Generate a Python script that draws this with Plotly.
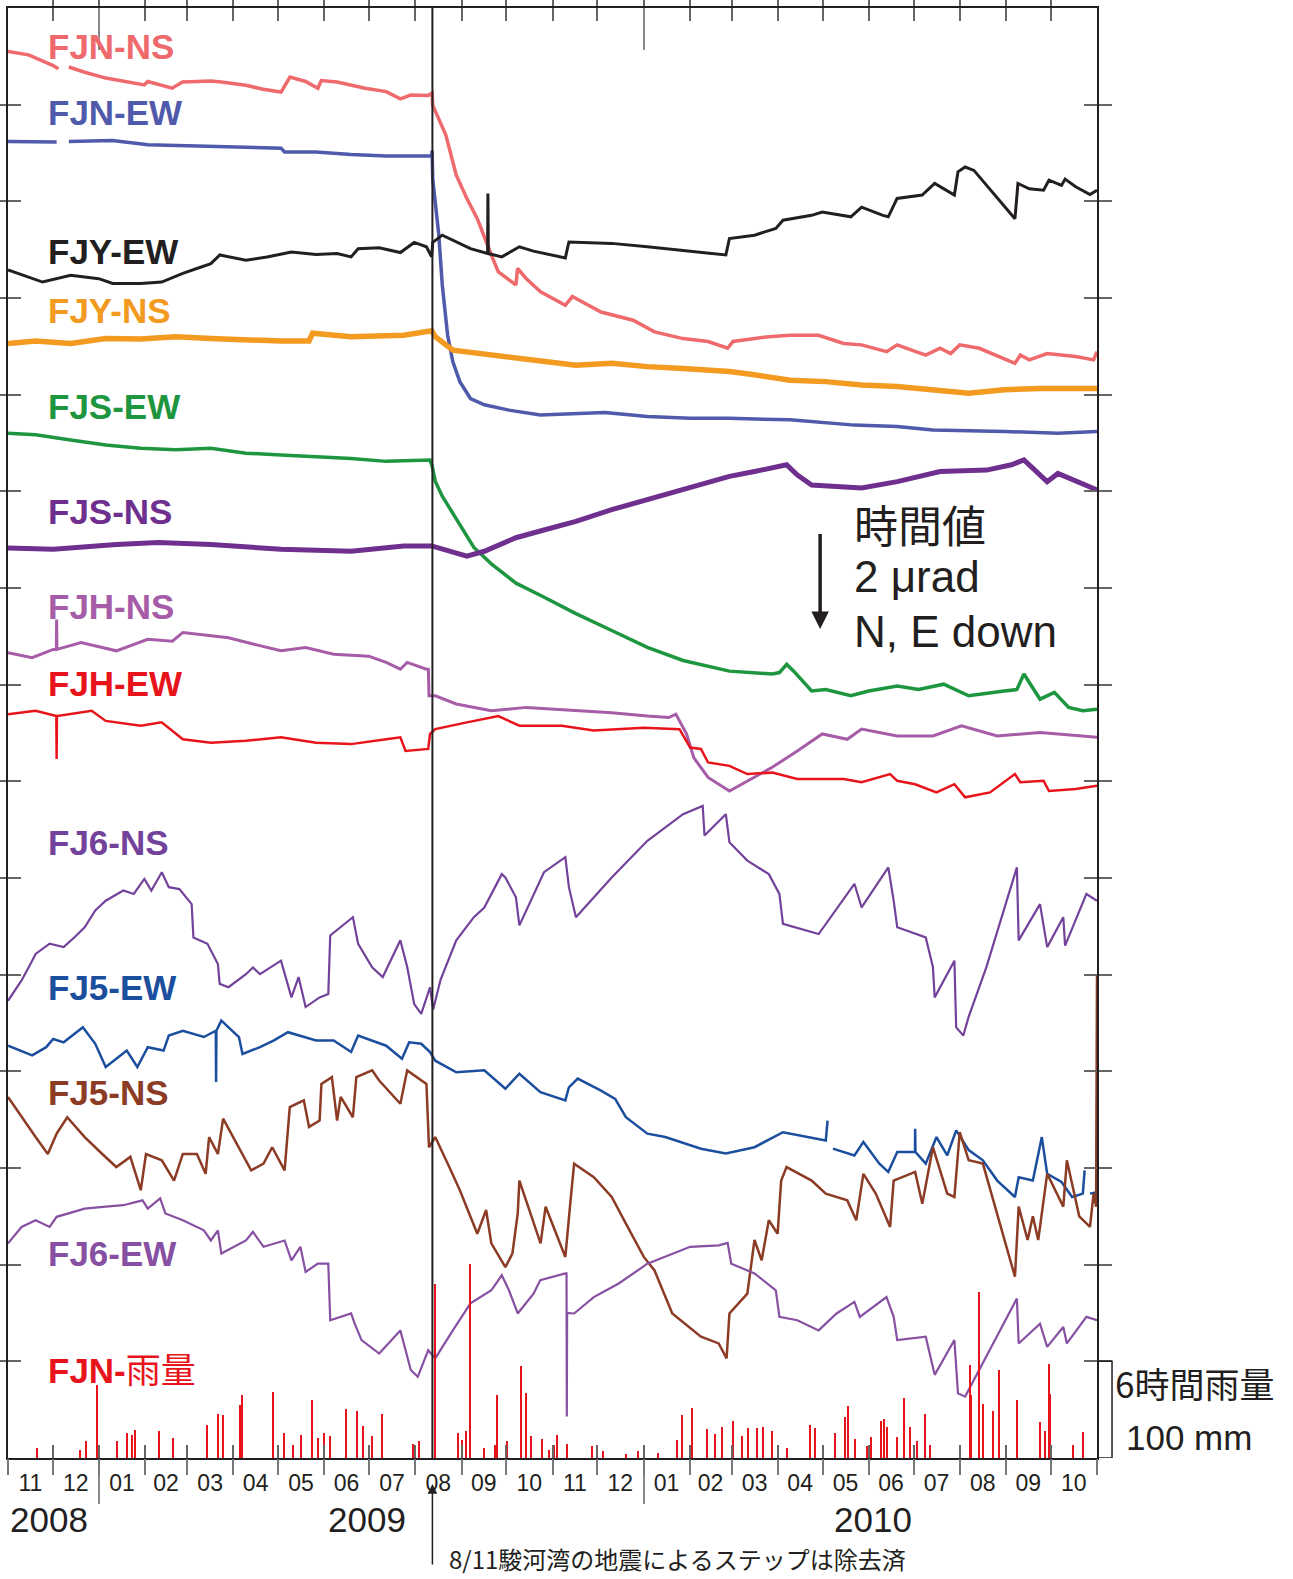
import pandas as pd
import plotly.graph_objects as go

START = pd.Timestamp("2008-11-01")
END = pd.Timestamp("2010-11-01")
QUAKE = pd.Timestamp("2009-08-12 12:00")
YEAR_STARTS = ["2009-01-01", "2010-01-01"]
MONTH_TICK_FORMAT = "%m"

# ---- tilt series: days since 2008-11-01, tilt in micro-radian (stacked offsets) ----
fjn_ns_day = [0, 13.8, 30.3, 33.8, 37, 40.8, 51.4, 65.5, 79.6, 91.4, 93.7, 110, 117, 136, 143, 159.5, 171, 183, 189,
              199.5, 207.7, 210, 220.6, 239.4, 253.5, 263, 270, 281.7, 284.3, 284.7, 293.5, 300.5, 307.6, 314.6,
              324, 328.7, 340.5, 341.6, 347.5, 357, 373.6, 378.3, 397.5, 419, 433.4, 452.5, 469.3, 482.4, 486,
              510, 524.3, 543.4, 560.2, 572.2, 589, 596, 615.2, 624.8, 631.9, 638, 651.1, 675, 678.6, 684.6,
              696.6, 715.7, 727.7, 730]
fjn_ns_val = [29.10, 29.03, 28.81, 28.74, None, 28.78, 28.67, 28.55, 28.47, 28.41, 28.48, 28.34, 28.47, 28.49, 28.47,
              28.40, 28.32, 28.26, 28.57, 28.48, 28.34, 28.50, 28.47, 28.34, 28.27, 28.12, 28.20, 28.19, 28.24,
              27.99, 27.37, 26.54, 26.06, 25.64, 24.89, 24.54, 24.27, 24.61, 24.40, 24.13, 23.85, 24.03, 23.71,
              23.54, 23.30, 23.16, 23.10, 22.96, 23.10, 23.20, 23.23, 23.23, 23.06, 23.03, 22.89, 23.03, 22.82,
              22.96, 22.85, 23.03, 22.96, 22.65, 22.82, 22.72, 22.85, 22.79, 22.72, 22.89]

fjn_ew_day = [0, 32.6, 37, 40.8, 70, 93.7, 124, 159.5, 183, 185.4, 206.5, 230, 253.5, 284.0, 284.3, 284.7, 288.8,
              291.1, 294.7, 298.2, 302.9, 310, 319.3, 335.8, 356.8, 400, 428.6, 457.3, 483.6, 524.3, 567.4, 596,
              620, 667.9, 703.8, 730]
fjn_ew_val = [27.24, 27.23, None, 27.24, 27.26, 27.17, 27.15, 27.12, 27.10, 27.02, 27.02, 26.97, 26.94, 26.94, 27.05,
              26.47, 25.30, 24.27, 23.23, 22.68, 22.27, 21.92, 21.79, 21.68, 21.58, 21.63, 21.55, 21.51, 21.51,
              21.48, 21.37, 21.34, 21.27, 21.24, 21.20, 21.24]

fjy_ew_day = [0, 16.2, 23.2, 42, 60.8, 70.2, 89, 103, 117.2, 126.6, 136, 142, 159.5, 173.6, 190, 206.5, 220.6, 230,
              234.7, 248.8, 263, 272.3, 280.5, 284.0, 284.7, 291.1, 300.5, 310, 321.5, 321.7, 322, 331, 342.8,
              352.2, 373.6, 376, 404.7, 428.6, 457.3, 481.2, 483.6, 500.4, 514.7, 519.5, 538.7, 545.8, 565, 572.2,
              586.5, 590.1, 596, 612.8, 621.2, 634.4, 636.8, 641.6, 647.5, 675, 677, 684.6, 694.2, 697.8, 706.2,
              708.6, 715.7, 725.3, 730]
fjy_ew_val = [24.58, 24.40, 24.33, 24.47, 24.40, 24.30, 24.30, 24.33, 24.51, 24.61, 24.71, 24.89, 24.78, 24.85,
              24.95, 24.90, 24.92, 24.85, 25.02, 25.04, 24.94, 25.15, 25.06, 24.85, 25.15, 25.30, 25.16, 25.02,
              24.92, 26.16, 24.92, 24.85, 25.06, 24.97, 24.83, 25.16, 25.13, 25.06, 24.97, 24.89, 25.23, 25.30,
              25.44, 25.61, 25.71, 25.78, 25.68, 25.88, 25.71, 25.68, 26.06, 26.13, 26.37, 26.13, 26.61, 26.71,
              26.64, 25.64, 26.37, 26.26, 26.23, 26.44, 26.33, 26.46, 26.30, 26.14, 26.23]

fjy_ns_day = [0, 18.5, 42, 65.5, 89, 112.5, 136, 159.5, 183, 201.8, 204.2, 230, 253.5, 265.3, 284.0, 286.4, 298.2,
              324, 356.8, 380.7, 404.7, 428.6, 452.5, 483.6, 500.4, 524.3, 548.2, 572.2, 596, 620, 644, 667.9,
              691.8, 730]
fjy_ns_val = [23.06, 23.11, 23.06, 23.16, 23.15, 23.20, 23.16, 23.13, 23.11, 23.11, 23.27, 23.20, 23.22, 23.23,
              23.32, 23.20, 22.92, 22.82, 22.72, 22.61, 22.65, 22.58, 22.54, 22.48, 22.41, 22.30, 22.27, 22.20,
              22.17, 22.10, 22.03, 22.10, 22.13, 22.13]

fjs_ew_day = [0, 18.5, 42, 65.5, 89, 112.5, 136, 159.5, 183, 206.5, 230, 253.5, 282.9, 284.5, 286.4, 291.1, 300.5,
              312.3, 324, 340.5, 356.8, 380.7, 404.7, 428.6, 452.5, 483.6, 512.3, 517.1, 522, 526.7, 538.7, 548.2,
              565, 577, 596.1, 610.5, 627.2, 644, 667.9, 676.3, 681, 691.8, 701.4, 711, 720.5, 730]
fjs_ew_val = [21.20, 21.17, 21.06, 20.96, 20.89, 20.86, 20.89, 20.79, 20.75, 20.72, 20.68, 20.62, 20.65, 20.50,
              20.21, 19.90, 19.42, 18.84, 18.50, 18.10, 17.85, 17.47, 17.12, 16.77, 16.50, 16.28, 16.22, 16.25,
              16.42, 16.28, 15.87, 15.90, 15.77, 15.87, 15.97, 15.90, 16.01, 15.77, 15.87, 15.90, 16.22, 15.70,
              15.84, 15.53, 15.46, 15.49]

fjs_ns_day = [0, 30.3, 72.6, 100.8, 136, 183, 230, 265.3, 284, 300.5, 307.6, 319.3, 340.5, 356.8, 380.7, 404.7,
              428.6, 447.7, 483.6, 500.4, 521.9, 529, 538.7, 572.2, 596.1, 624.8, 656, 672.7, 681, 696.6, 703.8, 730]
fjs_ns_val = [18.83, 18.80, 18.90, 18.94, 18.90, 18.80, 18.76, 18.87, 18.87, 18.73, 18.66, 18.76, 19.04, 19.18,
              19.38, 19.62, 19.83, 20.02, 20.31, 20.41, 20.55, 20.34, 20.13, 20.07, 20.20, 20.41, 20.44, 20.55,
              20.65, 20.20, 20.37, 20.03]

fjh_ns_day = [0, 16.2, 30.3, 32.4, 32.6, 32.8, 49, 72.6, 93.7, 110.2, 117.2, 136, 147.8, 164.2, 183, 199.5, 218.3,
              241.8, 253.5, 263, 267.6, 280.5, 281.8, 282.2, 286.4, 300.5, 324, 347.5, 380.7, 404.7, 428.6, 443,
              447.7, 454.9, 459.7, 469.3, 483.6, 495.6, 512.3, 529.1, 545.8, 562.6, 572.2, 596.1, 620, 639.2,
              663.1, 691.8, 730]
fjh_ns_val = [16.66, 16.56, 16.73, 16.73, 17.35, 16.73, 16.87, 16.70, 16.94, 16.90, 17.08, 17.01, 16.97, 16.84,
              16.70, 16.77, 16.63, 16.59, 16.46, 16.32, 16.46, 16.32, 16.32, 15.77, 15.77, 15.60, 15.46, 15.53,
              15.46, 15.42, 15.35, 15.32, 15.39, 14.98, 14.49, 14.08, 13.80, 14.01, 14.29, 14.63, 14.98, 14.87,
              15.08, 14.94, 14.94, 15.15, 14.94, 15.01, 14.91]

fjh_ew_day = [0, 18.5, 32.4, 32.6, 32.8, 56.1, 65.5, 89, 103, 117.2, 136, 159.5, 183, 206.5, 230, 253.5, 263,
              266.5, 281.7, 282.9, 286.4, 307.6, 328.7, 342.8, 371.2, 392.7, 426.2, 450.1, 457.3, 464.5, 469.3,
              483.6, 495.6, 512.3, 529.1, 560.2, 572.2, 591.3, 596.1, 608.1, 622.4, 634.4, 641.6, 658.3, 675,
              678.6, 694.2, 697.8, 715.7, 730]
fjh_ew_val = [15.39, 15.46, 15.35, 14.46, 15.35, 15.46, 15.25, 15.15, 15.22, 14.87, 14.80, 14.84, 14.91, 14.80,
              14.77, 14.87, 14.91, 14.63, 14.67, 14.98, 15.08, 15.22, 15.35, 15.15, 15.15, 15.05, 15.11, 15.08,
              14.70, 14.67, 14.39, 14.32, 14.15, 14.18, 14.05, 14.05, 13.98, 14.15, 14.01, 13.94, 13.77, 13.94,
              13.67, 13.77, 14.15, 13.98, 14.01, 13.80, 13.84, 13.91]

fj6_ns_day = [0, 9.1, 16.2, 18.5, 27.9, 37.3, 44.4, 51.4, 58.5, 65.5, 77.3, 84.3, 91.4, 96.1, 103.1, 107.8, 114.9,
              123.1, 124.3, 133.7, 140.7, 141.9, 147.8, 159.5, 164.2, 168.9, 183, 190, 194.8, 199.5, 208.9, 214.7,
              216, 231.2, 234.7, 244.1, 251.2, 263, 267.6, 272.3, 277, 282.9, 285, 290, 300.5, 312.3, 319.3, 331,
              333.4, 340.5, 342.8, 354.6, 359.3, 373.6, 376, 380.7, 404.7, 428.6, 452.5, 465.7, 466.9, 481.2,
              483.6, 495.6, 510, 517.1, 519.5, 543.4, 567.4, 572.2, 590.1, 593.7, 596.1, 615.2, 620, 621.2, 634.4,
              635.6, 640.4, 643.9, 651.1, 655.9, 676.3, 677.5, 691.8, 696.6, 707.4, 708.6, 722.9, 730]
fj6_ns_val = [9.46, 9.88, 10.29, 10.43, 10.64, 10.57, 10.77, 10.98, 11.33, 11.53, 11.74, 11.67, 11.98, 11.74, 12.12,
              11.81, 11.77, 11.46, 10.77, 10.64, 10.22, 9.81, 9.74, 10.01, 10.15, 10.01, 10.29, 9.53, 9.95, 9.33,
              9.53, 9.60, 10.81, 11.19, 10.64, 10.15, 9.95, 10.71, 10.16, 9.39, 9.19, 9.74, 9.28, 9.90, 10.71,
              11.19, 11.39, 12.08, 12.01, 11.60, 11.02, 11.81, 12.12, 12.43, 11.81, 11.19, 12.01, 12.77, 13.32,
              13.49, 12.88, 13.32, 12.74, 12.36, 12.08, 11.67, 11.05, 10.84, 11.88, 11.39, 12.22, 11.53, 10.98,
              10.77, 10.16, 9.53, 10.29, 8.91, 8.74, 9.12, 9.74, 10.16, 12.22, 10.71, 11.46, 10.57, 11.19, 10.60,
              11.67, 11.53]

fj5_ew_day = [0, 16.2, 25.6, 30.3, 37.3, 50.2, 58.5, 65.5, 72.6, 79.6, 86.7, 93.7, 104.3, 107.8, 117.2, 131.3,
              139.3, 139.5, 139.7, 143, 154.8, 157.2, 168.9, 178.3, 187.7, 206.5, 218.3, 230, 234.7, 253.5, 264.1,
              268.9, 277, 282.9, 286.4, 300.5, 319.3, 333.4, 342.8, 356.9, 373.6, 376, 381.9, 397.5, 407, 414.2,
              428.6, 440.6, 464.5, 481.2, 500.4, 519.5, 548.2, 549.4, 551, 553, 567.4, 573.4, 584.1, 590.1, 596.1,
              608, 608.1, 608.3, 615.2, 622.4, 629.6, 635.6, 644, 653.5, 663.1, 675, 677.5, 687, 693, 696.6, 706.2,
              713.3, 720.5, 721.7, 723.5, 725.3, 730]
fj5_ew_val = [8.53, 8.33, 8.50, 8.67, 8.60, 8.91, 8.57, 8.09, 8.26, 8.43, 8.09, 8.50, 8.43, 8.74, 8.84, 8.71, 8.84,
              7.78, 8.84, 9.05, 8.71, 8.36, 8.50, 8.64, 8.81, 8.64, 8.64, 8.40, 8.74, 8.53, 8.26, 8.60, 8.57, 8.40,
              8.22, 7.98, 8.02, 7.64, 7.95, 7.57, 7.40, 7.67, 7.85, 7.60, 7.43, 7.05, 6.71, 6.64, 6.40, 6.30, 6.43,
              6.74, 6.57, 6.98, None, 6.40, 6.26, 6.54, 6.09, 5.92, 6.33, 6.33, 6.81, 6.33, 6.09, 6.64, 6.26, 6.78,
              6.37, 6.16, 5.74, 5.40, 5.81, 5.74, 6.64, 5.88, 5.71, 5.40, 5.47, 5.95, None, 5.47, 5.50]

fj5_ns_day = [0, 9.1, 18.5, 26.7, 32.6, 39.7, 51.4, 63.2, 72.6, 82, 89, 92.5, 103.1, 111.3, 117.2, 126.6, 132.5,
              134.8, 140.7, 144.2, 154.8, 163, 171.3, 177.1, 185.4, 188.9, 198.3, 201.8, 208.9, 210.1, 217.1,
              220.6, 223, 231.2, 233.5, 244.1, 248.8, 263, 267.6, 280.5, 282.2, 286.4, 295.8, 302.9, 314.6, 320.5,
              324, 333.4, 338.1, 341.7, 342.8, 357, 360.4, 373.6, 377.1, 379.5, 392.7, 404.7, 414.2, 426.2, 433.4,
              445.3, 464.5, 476.4, 481.7, 483.6, 495.6, 500.4, 505.2, 510, 515.9, 518.3, 521.9, 538.7, 548.2,
              562.6, 568.6, 573.4, 581.7, 591.3, 593.7, 608.1, 612.9, 620, 629.6, 634.4, 638, 644, 653.5, 663.1,
              675, 677.5, 683.5, 687, 690.6, 696.6, 707.4, 709.8, 718.1, 725.3, 727.7, 729.4, 730]
fj5_ns_val = [7.47, 7.05, 6.64, 6.29, 6.71, 7.05, 6.64, 6.29, 6.02, 6.23, 5.54, 6.29, 6.16, 5.74, 6.29, 6.29, 5.88,
              6.64, 6.29, 7.02, 6.43, 5.95, 6.09, 6.43, 5.95, 7.26, 7.40, 6.85, 6.98, 7.74, 7.88, 6.98, 7.47, 7.05,
              7.88, 8.02, 7.81, 7.33, 8.02, 7.74, 6.43, 6.64, 6.02, 5.54, 4.64, 5.13, 4.44, 3.95, 4.23, 5.06, 5.74,
              4.44, 5.20, 4.16, 5.33, 6.09, 5.81, 5.40, 4.85, 4.16, 3.88, 2.99, 2.51, 2.37, 2.06, 2.99, 3.40, 4.51,
              4.09, 4.92, 4.64, 5.74, 6.02, 5.74, 5.47, 5.33, 4.92, 5.88, 5.47, 4.78, 5.74, 5.92, 5.26, 6.43, 5.47,
              5.40, 6.74, 6.16, 6.09, 5.06, 3.75, 5.20, 4.51, 5.00, 4.51, 5.88, 5.20, 6.16, 5.00, 4.78, 5.47, 5.20,
              9.98]

fj6_ew_day = [0, 9.1, 18.5, 27.9, 32.6, 51.4, 65.5, 77.3, 90.2, 93.7, 102, 105.5, 117.2, 131.3, 136, 140.7, 143,
              159.5, 164.2, 171.3, 185.4, 190, 196, 199.5, 207.7, 214.7, 216, 230, 232.4, 237, 248.8, 263, 270,
              274.7, 281.7, 286.4, 298.2, 310, 324, 331, 335.8, 341.7, 352.3, 356.8, 373.6, 374.4, 374.6, 374.8,
              379.5, 392.7, 409.4, 428.6, 457.3, 476.4, 482.4, 484.8, 500.4, 514.7, 517.1, 529.1, 543.4, 555.4,
              567.4, 571, 588.9, 593.7, 596.1, 615.2, 621.2, 634.4, 636.8, 641.6, 676.3, 677.5, 691.8, 696.6,
              707.4, 709.8, 722.9, 730]
fj6_ew_val = [4.44, 4.78, 4.92, 4.78, 4.99, 5.16, 5.20, 5.23, 5.33, 5.16, 5.37, 5.06, 4.92, 4.71, 4.50, 4.71, 4.23,
              4.50, 4.68, 4.37, 4.50, 4.09, 4.37, 3.85, 4.02, 4.02, 2.85, 2.99, 2.78, 2.44, 2.16, 2.64, 1.82, 1.68,
              2.23, 2.06, 2.64, 3.20, 3.47, 3.78, 3.47, 2.99, 3.40, 3.68, 3.82, 3.82, 0.86, 3.00, 2.99, 3.33, 3.61,
              4.02, 4.37, 4.40, 4.45, 4.02, 3.82, 3.47, 2.92, 2.85, 2.64, 2.99, 3.23, 2.92, 3.33, 2.92, 2.44, 2.51,
              1.72, 2.44, 1.34, 1.27, 3.30, 2.37, 2.78, 2.30, 2.71, 2.37, 2.92, 2.85]

# ---- 6-hour rainfall at FJN (mm) ----
rain_day = [19.6, 48.6, 52.6, 59.8, 73.4, 80, 83.4, 85.4, 101.5, 111, 133.7, 141, 144.4, 155.8, 157.1, 177.9, 185.3,
            191.3, 196.6, 204, 208, 212.1, 216.1, 226.8, 234.2, 238.2, 244.2, 250.9, 271.7, 275.7, 286.4, 301.8,
            304.5, 307.2, 309.9, 319.3, 326.6, 328, 334.7, 344, 347.4, 350.8, 358.1, 362.8, 366.2, 368.2, 374.9,
            391.6, 399, 414.4, 422.4, 435.8, 448.6, 451.9, 458.6, 468.6, 474, 478.7, 486.1, 492.1, 496.1, 502.2,
            506.2, 512.2, 522.3, 537.7, 541, 554.4, 561.1, 563.1, 567.8, 575.9, 578.6, 585.3, 587.3, 589.4, 596.1,
            600.7, 604.7, 609.4, 614.7, 618.1, 644.9, 645.6, 651, 653.6, 660.3, 664.5, 676.5, 691.9, 695.3, 698,
            698.5, 713.9, 720.6]
rain_mm = [10, 8, 18, 76, 18, 26, 24, 29, 28, 21, 34, 46, 44, 55, 65, 68, 26, 13, 24, 60, 21, 26, 23, 51, 49, 33, 23,
           46, 15, 18, 180, 26, 19, 28, 201, 10, 13, 65, 18, 95, 67, 23, 20, 8, 13, 24, 14, 12, 7, 4, 7, 5, 19, 44,
           52, 30, 25, 32, 38, 23, 31, 31, 32, 28, 10, 34, 31, 26, 42, 54, 20, 12, 22, 38, 40, 32, 22, 62, 32, 18,
           46, 13, 96, 65, 172, 56, 49, 91, 60, 37, 28, 97, 66, 13, 27]

# scale annotations
SCALE_TILT_URAD = 2
SCALE_RAIN_MM = 100
scale_arrow_day = 544.4
scale_arrow_tip = 17.15

series = [
    ("FJN-NS", fjn_ns_day, fjn_ns_val, "#EE6A6C", 3.5, 29.21),
    ("FJN-EW", fjn_ew_day, fjn_ew_val, "#4F5BAA", 3.5, 27.83),
    ("FJY-EW", fjy_ew_day, fjy_ew_val, "#231F20", 3.0, 24.96),
    ("FJY-NS", fjy_ns_day, fjy_ns_val, "#F39A20", 5.5, 23.74),
    ("FJS-EW", fjs_ew_day, fjs_ew_val, "#1E9640", 3.5, 21.76),
    ("FJS-NS", fjs_ns_day, fjs_ns_val, "#6E2F8E", 5.0, 19.59),
    ("FJH-NS", fjh_ns_day, fjh_ns_val, "#A65CA6", 3.0, 17.62),
    ("FJH-EW", fjh_ew_day, fjh_ew_val, "#E8141B", 2.5, 16.03),
    ("FJ6-NS", fj6_ns_day, fj6_ns_val, "#73429A", 2.2, 12.73),
    ("FJ5-EW", fj5_ew_day, fj5_ew_val, "#1C4E9E", 2.5, 9.73),
    ("FJ5-NS", fj5_ns_day, fj5_ns_val, "#8C3B24", 2.5, 7.56),
    ("FJ6-EW", fj6_ew_day, fj6_ew_val, "#8750A2", 2.2, 4.24),
]


def to_dates(days):
    return [START + pd.Timedelta(days=d) for d in days]


LATIN = "Liberation Sans, Arial, Noto Sans CJK JP, sans-serif"
CJK = "Noto Sans CJK JP, Liberation Sans, sans-serif"
INK = "#231F20"

fig = go.Figure()

fig.add_trace(go.Bar(x=to_dates(rain_day), y=rain_mm, yaxis="y2", width=86400000 * 0.9,
                     marker=dict(color="#E8141B", line=dict(width=0)), showlegend=False, hoverinfo="skip"))

for name, d, v, color, width, _ in series:
    fig.add_trace(go.Scatter(x=to_dates(d), y=v, mode="lines", name=name,
                             line=dict(color=color, width=width), connectgaps=False,
                             showlegend=False))

# empty traces to attach the extra tick axes
for ax in ["x2", "x3", "x4", "x5"]:
    fig.add_trace(go.Scatter(x=[], y=[], xaxis=ax, yaxis="y", showlegend=False, hoverinfo="skip"))

annotations = []
for name, d, v, color, width, label_y in series:
    annotations.append(dict(text=f"<b>{name}</b>", x=0.0345, xref="paper", xanchor="left", y=label_y, yref="y",
                            yanchor="middle", showarrow=False, font=dict(size=35, color=color, family=LATIN)))
annotations.append(dict(text="<b>FJN-</b>雨量", x=0.0345, xref="paper", xanchor="left", y=1.82, yref="y",
                        yanchor="middle", showarrow=False, font=dict(size=35, color="#E8141B", family=LATIN)))

# years
annotations += [
    dict(text="2008", x=0.0, xref="paper", xanchor="left", y=-0.0425, yref="paper", yanchor="middle",
         showarrow=False, font=dict(size=35, color=INK, family=LATIN)),
    dict(text="2009", x=0.3673, xref="paper", xanchor="right", y=-0.0425, yref="paper", yanchor="middle",
         showarrow=False, font=dict(size=35, color=INK, family=LATIN)),
    dict(text="2010", x=0.7567, xref="paper", xanchor="left", y=-0.0425, yref="paper", yanchor="middle",
         showarrow=False, font=dict(size=35, color=INK, family=LATIN)),
]

# earthquake note with arrow
annotations.append(dict(text="", x=QUAKE, xref="x", y=-0.018, yref="paper", ax=0, ay=82, showarrow=True,
                        arrowhead=2, arrowsize=1.3, arrowwidth=1.5, arrowcolor=INK))
annotations.append(dict(text="8/11駿河湾の地震によるステップは除去済", x=0.403, xref="paper", xanchor="left",
                        y=-0.0690, yref="paper", yanchor="middle", showarrow=False,
                        font=dict(size=24, color=INK, family=CJK)))

# tilt scale
arrow_date = START + pd.Timedelta(days=scale_arrow_day)
annotations.append(dict(text="", x=arrow_date, xref="x", y=scale_arrow_tip, yref="y", ax=0, axref="pixel",
                        ay=scale_arrow_tip + SCALE_TILT_URAD, ayref="y", showarrow=True, arrowhead=2,
                        arrowsize=1.0, arrowwidth=3.5, arrowcolor=INK))
annotations += [
    dict(text="時間値", x=0.775, xref="paper", xanchor="left", y=19.32, yref="y", yanchor="middle",
         showarrow=False, font=dict(size=44, color=INK, family=CJK)),
    dict(text=f"{SCALE_TILT_URAD} μrad", x=0.775, xref="paper", xanchor="left", y=18.24, yref="y",
         yanchor="middle", showarrow=False, font=dict(size=44, color=INK, family=LATIN)),
    dict(text="N, E down", x=0.775, xref="paper", xanchor="left", y=17.11, yref="y", yanchor="middle",
         showarrow=False, font=dict(size=44, color=INK, family=LATIN)),
]

# rain scale
annotations += [
    dict(text="6時間雨量", x=1.0145, xref="paper", xanchor="left", y=78.5, yref="y2", yanchor="middle",
         showarrow=False, font=dict(size=35, color=INK, family=CJK)),
    dict(text=f"{SCALE_RAIN_MM} mm", x=1.0245, xref="paper", xanchor="left", y=21.7, yref="y2",
         yanchor="middle", showarrow=False, font=dict(size=35, color=INK, family=LATIN)),
]

shapes = [
    dict(type="line", xref="x", yref="paper", x0=QUAKE, x1=QUAKE, y0=0, y1=1,
         line=dict(color=INK, width=2)),
    dict(type="path", xref="paper", yref="y2",
         path=f"M 1.0,{SCALE_RAIN_MM} L 1.0138,{SCALE_RAIN_MM} L 1.0138,0 L 1.0,0",
         line=dict(color=INK, width=1.5)),
]

common_x = dict(type="date", range=[START, END], showgrid=False, zeroline=False)

fig.update_layout(
    width=1293, height=1579,
    margin=dict(l=8, r=196, t=6, b=121, pad=0),
    paper_bgcolor="white", plot_bgcolor="white",
    showlegend=False, bargap=0,
    font=dict(family=LATIN, color=INK),
    xaxis=dict(**common_x, tick0=START, dtick="M1", ticks="inside", ticklen=13, tickwidth=1.5,
               tickcolor="#666666", showline=True, linecolor=INK, linewidth=2, mirror="allticks",
               showticklabels=False),
    # month labels (invisible short ticks just to set the label distance)
    xaxis2=dict(**common_x, overlaying="x", anchor="y", side="bottom", tick0=START, dtick="M1",
                ticks="outside", ticklen=4, tickwidth=1, tickcolor="rgba(0,0,0,0)", ticklabelmode="period",
                tickformat=MONTH_TICK_FORMAT, tickfont=dict(size=23, color=INK, family=LATIN), showline=False),
    # visible monthly tick row below the frame
    xaxis5=dict(**common_x, overlaying="x", anchor="y", side="bottom", tick0=START, dtick="M1",
                ticks="outside", ticklen=16, tickwidth=1.5, tickcolor="#777777", showticklabels=False,
                showline=False),
    xaxis3=dict(**common_x, overlaying="x", anchor="y", side="bottom", tickmode="array", tickvals=YEAR_STARTS,
                ticks="outside", ticklen=45, tickwidth=2, tickcolor="#888888", showticklabels=False,
                showline=False),
    xaxis4=dict(**common_x, overlaying="x", anchor="y", side="top", tickmode="array", tickvals=YEAR_STARTS,
                ticks="inside", ticklen=42, tickwidth=2, tickcolor="#888888", showticklabels=False,
                showline=False),
    yaxis=dict(range=[0, 30], tick0=0, dtick=SCALE_TILT_URAD, ticks="inside", ticklen=13, tickwidth=1.5,
               tickcolor="#666666", showline=True, linecolor=INK, linewidth=2, mirror="allticks",
               showticklabels=False, showgrid=False, zeroline=False),
    yaxis2=dict(range=[0, 30 / SCALE_TILT_URAD * SCALE_RAIN_MM], overlaying="y", visible=False),
    annotations=annotations,
    shapes=shapes,
)

fig.write_html("out.html", config={"displayModeBar": False},
               post_script="document.body.style.margin='0px';")
